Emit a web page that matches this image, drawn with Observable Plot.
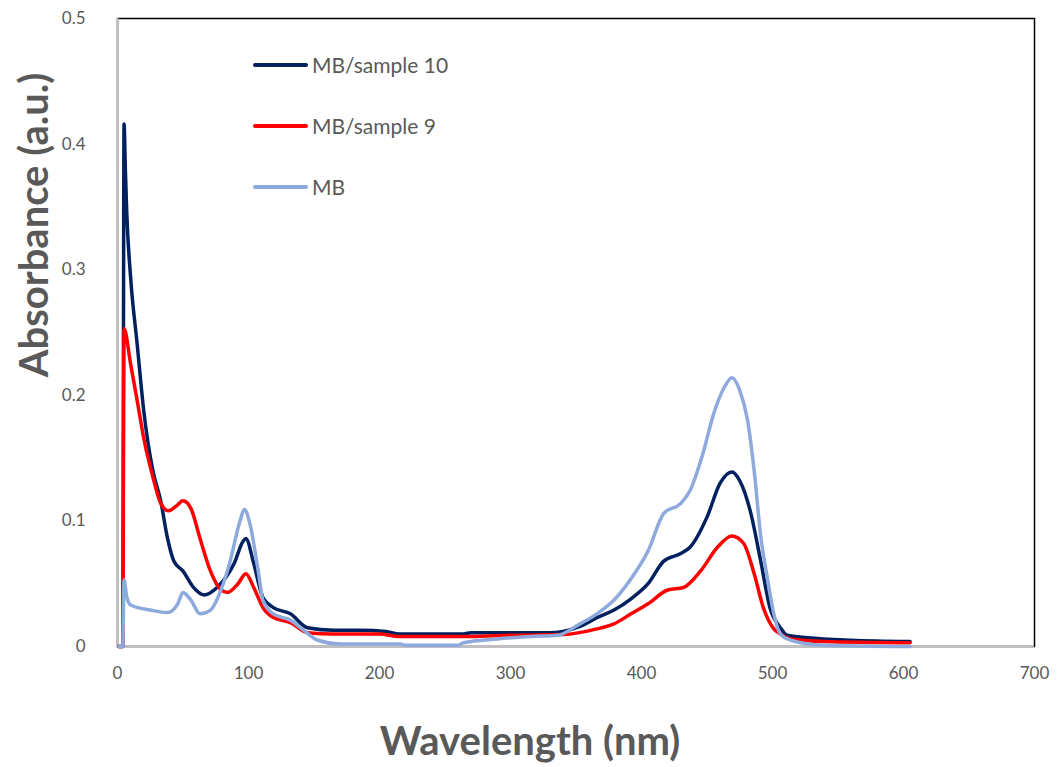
<!DOCTYPE html>
<html>
<head>
<meta charset="utf-8">
<script src="https://cdn.jsdelivr.net/npm/d3@7"></script>
<script src="https://cdn.jsdelivr.net/npm/@observablehq/plot@0.6"></script>
<style>
  body { margin: 0; background: #fff; }
  #wrap { position: relative; width: 1060px; height: 767px; font-family: Lato, "Open Sans", sans-serif; color: #595959; }
  .ytitle { position: absolute; left: 33px; top: 225px; transform: translate(-50%, -50%) rotate(-90deg); font-weight: bold; font-size: 40px; white-space: nowrap; }
  .xtitle { position: absolute; left: 530px; top: 740px; transform: translate(-50%, -50%); font-weight: bold; font-size: 40px; white-space: nowrap; }
  .legend { position: absolute; left: 253px; top: 34px; }
  .item { display: flex; align-items: center; height: 61px; }
  .swatch { width: 55px; height: 4px; border-radius: 2px; margin-right: 4px; }
  .lab { font-size: 21px; }
</style>
</head>
<body>
<div id="wrap">
  <div id="chart"></div>
  <div class="ytitle">Absorbance (a.u.)</div>
  <div class="xtitle">Wavelength (nm)</div>
  <div class="legend" id="legend"></div>
</div>
<script>
// Series names and colours
const seriesNames = ["MB/sample 10", "MB/sample 9", "MB"];
const seriesColors = ["#002060", "#FF0000", "#8EA9DB"];

// Axis ticks
const xTicks = [0, 100, 200, 300, 400, 500, 600, 700];
const yTicks = [0, 0.1, 0.2, 0.3, 0.4, 0.5];

// MB/sample 10
const s10X = [1, 4, 5, 6, 7, 10, 15, 20, 27, 33, 38, 43, 50, 58, 66, 76, 89, 96, 98, 104, 111, 119, 132, 145, 165, 185, 205, 215, 264, 270, 330, 340, 353, 366, 379, 392, 405, 417, 430, 437, 450, 460, 469, 475, 483, 491, 498, 506, 511, 527, 560, 605];
const s10Y = [0, 0, 0.416, 0.38, 0.347, 0.294, 0.241, 0.188, 0.14, 0.116, 0.087, 0.068, 0.060, 0.047, 0.041, 0.047, 0.066, 0.084, 0.086, 0.066, 0.039, 0.031, 0.026, 0.015, 0.013, 0.013, 0.012, 0.010, 0.010, 0.011, 0.011, 0.012, 0.016, 0.023, 0.029, 0.038, 0.050, 0.068, 0.074, 0.079, 0.103, 0.130, 0.139, 0.132, 0.108, 0.068, 0.031, 0.015, 0.009, 0.007, 0.005, 0.004];

// MB/sample 9
const s9X = [1, 4, 5, 10, 15, 20, 27, 33, 39, 45, 50, 56, 63, 71, 79, 84, 92, 98, 104, 111, 119, 132, 145, 165, 200, 215, 270, 300, 340, 366, 379, 392, 405, 420, 432, 445, 458, 469, 478, 486, 493, 501, 506, 514, 539, 605];
const s9Y = [0, 0, 0.253, 0.225, 0.196, 0.166, 0.135, 0.114, 0.108, 0.112, 0.116, 0.110, 0.086, 0.060, 0.045, 0.043, 0.050, 0.058, 0.047, 0.031, 0.023, 0.019, 0.011, 0.010, 0.010, 0.008, 0.008, 0.009, 0.0095, 0.014, 0.018, 0.026, 0.034, 0.045, 0.047, 0.060, 0.079, 0.088, 0.082, 0.058, 0.031, 0.014, 0.010, 0.006, 0.004, 0.003];

// MB
const mbX = [1, 4, 5, 7, 10, 25, 38, 46, 50, 56, 63, 71, 79, 86, 93, 97, 101, 107, 111, 119, 132, 142, 153, 170, 216, 220, 260, 264, 290, 315, 336, 353, 366, 379, 392, 405, 417, 430, 437, 447, 455, 463, 469, 475, 481, 486, 491, 496, 501, 506, 514, 539, 605];
const mbY = [0, 0, 0.053, 0.040, 0.033, 0.029, 0.027, 0.034, 0.043, 0.037, 0.026, 0.029, 0.045, 0.068, 0.098, 0.109, 0.098, 0.063, 0.037, 0.026, 0.021, 0.013, 0.005, 0.002, 0.002, 0.001, 0.001, 0.003, 0.006, 0.008, 0.009, 0.018, 0.026, 0.037, 0.054, 0.076, 0.106, 0.114, 0.124, 0.154, 0.185, 0.206, 0.214, 0.204, 0.180, 0.140, 0.088, 0.055, 0.026, 0.010, 0.005, 0.001, 0.0];

const seriesX = [s10X, s9X, mbX];
const seriesY = [s10Y, s9Y, mbY];

const data = seriesNames.flatMap((name, k) =>
  seriesX[k].map((x, i) => ({ series: name, x, y: seriesY[k][i] }))
);

const chart = Plot.plot({
  width: 1060,
  height: 767,
  marginLeft: 117,
  marginRight: 26,
  marginTop: 18,
  marginBottom: 121,
  style: { fontFamily: "Lato, 'Open Sans', sans-serif", fontSize: "17px", color: "#595959", background: "#fff" },
  x: { domain: [0, 700], ticks: xTicks, tickSize: 0, tickPadding: 20, tickFormat: d => String(d), label: null },
  y: { domain: [0, 0.5], ticks: yTicks, tickSize: 0, tickPadding: 32, tickFormat: d => String(d), label: null },
  color: { domain: seriesNames, range: seriesColors },
  marks: [
    Plot.frame({ stroke: "#000", strokeWidth: 1.5 }),
    Plot.ruleX([0], { stroke: "#bfbfbf", strokeWidth: 2 }),
    Plot.ruleY([0], { stroke: "#bfbfbf", strokeWidth: 2 }),
    Plot.line(data, { x: "x", y: "y", z: "series", stroke: "series", strokeWidth: 3.5, curve: "monotone-x", strokeLinejoin: "round", strokeLinecap: "round" })
  ]
});
document.getElementById("chart").appendChild(chart);

const legend = document.getElementById("legend");
seriesNames.forEach((name, k) => {
  const item = document.createElement("div");
  item.className = "item";
  const sw = document.createElement("div");
  sw.className = "swatch";
  sw.style.background = seriesColors[k];
  const lab = document.createElement("span");
  lab.className = "lab";
  lab.textContent = name;
  item.appendChild(sw);
  item.appendChild(lab);
  legend.appendChild(item);
});
</script>
</body>
</html>
